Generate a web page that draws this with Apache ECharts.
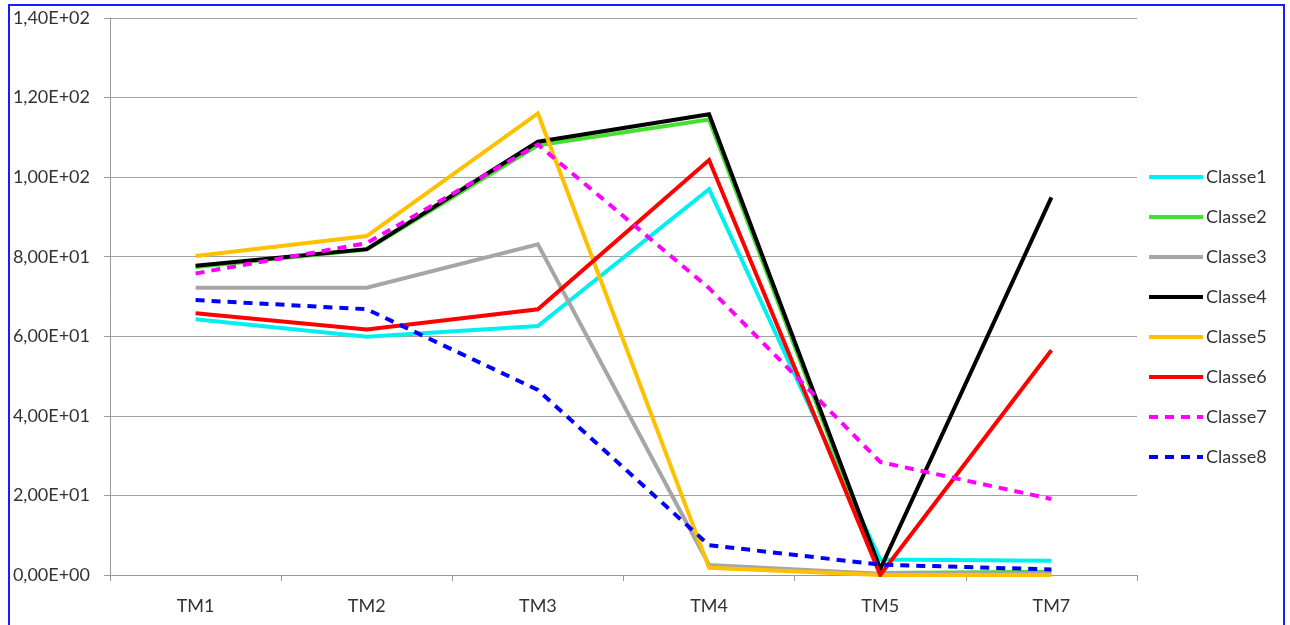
<!DOCTYPE html>
<html>
<head>
<meta charset="utf-8">
<script src="https://cdn.jsdelivr.net/npm/echarts@6/dist/echarts.min.js"></script>
<style>
  html, body { margin: 0; padding: 0; background: #fff; }
  #chart { width: 1290px; height: 625px; }
</style>
</head>
<body>
<div id="chart"></div>
<script>
// Categories along the x axis
const categories = ['TM1', 'TM2', 'TM3', 'TM4', 'TM5', 'TM7'];

// Values per class
const classe1 = [64.3, 59.9, 62.6, 97.0, 3.9, 3.6];
const classe2 = [77.4, 81.8, 108.0, 114.5, 0.5, 0.8];
const classe3 = [72.2, 72.2, 83.1, 2.5, 0.3, 0.3];
const classe4 = [77.7, 81.9, 108.9, 115.8, 1.5, 94.9];
const classe5 = [80.2, 85.2, 116.0, 1.8, 0.0, 0.0];
const classe6 = [65.8, 61.7, 66.8, 104.3, 0.0, 56.5];
const classe7 = [75.8, 83.4, 108.2, 72.1, 28.4, 19.1];
const classe8 = [69.1, 66.8, 46.5, 7.5, 2.6, 1.4];

const seriesNames = ['Classe1', 'Classe2', 'Classe3', 'Classe4', 'Classe5', 'Classe6', 'Classe7', 'Classe8'];
const seriesData = [classe1, classe2, classe3, classe4, classe5, classe6, classe7, classe8];
const seriesColors = ['#00F0F0', '#44E030', '#A6A6A6', '#000000', '#FFC000', '#FF0000', '#FF00FF', '#0000FF'];
const seriesDashed = [false, false, false, false, false, false, true, true];

// Y axis bounds
const yMin = 0, yMax = 140, yStep = 20;

// Scientific notation with a decimal comma, e.g. 1,40E+02
function sci(v) {
  if (v === 0) return '0,00E+00';
  const s = v.toExponential(2);
  const [m, e] = s.split('e');
  const exp = parseInt(e, 10);
  const sign = exp < 0 ? '-' : '+';
  return m.replace('.', ',') + 'E' + sign + String(Math.abs(exp)).padStart(2, '0');
}

const FONT = 'Lato, "Open Sans", sans-serif';

const chart = echarts.init(document.getElementById('chart'), null, { renderer: 'canvas' });

chart.setOption({
  animation: false,
  backgroundColor: '#ffffff',
  grid: { left: 110, right: 153, top: 18, bottom: 50, containLabel: false },
  xAxis: {
    type: 'category',
    data: categories,
    boundaryGap: true,
    axisLine: { show: true, lineStyle: { color: '#9a9a9a', width: 1 } },
    axisTick: { show: true, interval: 0, length: 6, inside: false, lineStyle: { color: '#9a9a9a' } },
    axisLabel: { color: '#333', fontSize: 18, fontFamily: FONT, margin: 22, interval: 0 },
    splitLine: { show: false }
  },
  yAxis: {
    type: 'value',
    min: yMin, max: yMax, interval: yStep,
    axisLine: { show: true, lineStyle: { color: '#9a9a9a', width: 1 } },
    axisTick: { show: true, length: 6, lineStyle: { color: '#9a9a9a' } },
    axisLabel: { color: '#333', fontSize: 18, fontFamily: FONT, margin: 20, formatter: sci },
    splitLine: { show: true, lineStyle: { color: '#a0a0a0', width: 1 } }
  },
  legend: {
    orient: 'vertical',
    left: 1142,
    top: 163,
    itemWidth: 54,
    itemHeight: 18,
    itemGap: 22,
    itemStyle: { opacity: 0 },
    lineStyle: { width: 4 },
    textStyle: { color: '#333', fontSize: 18, fontFamily: FONT, padding: [0, 0, 0, -2] },
    data: seriesNames
  },
  graphic: [{
    type: 'rect',
    shape: { x: 9, y: 5, width: 1275, height: 640 },
    style: { fill: 'none', stroke: '#1a1aff', lineWidth: 2 },
    silent: true
  }],
  series: seriesNames.map((name, i) => ({
    name: name,
    type: 'line',
    data: seriesData[i],
    symbol: 'none',
    showSymbol: false,
    color: seriesColors[i],
    lineStyle: {
      color: seriesColors[i],
      width: 4,
      type: seriesDashed[i] ? [9, 7] : 'solid',
      cap: 'butt',
      join: 'miter'
    },
    z: 2 + i
  }))
});
</script>
</body>
</html>
